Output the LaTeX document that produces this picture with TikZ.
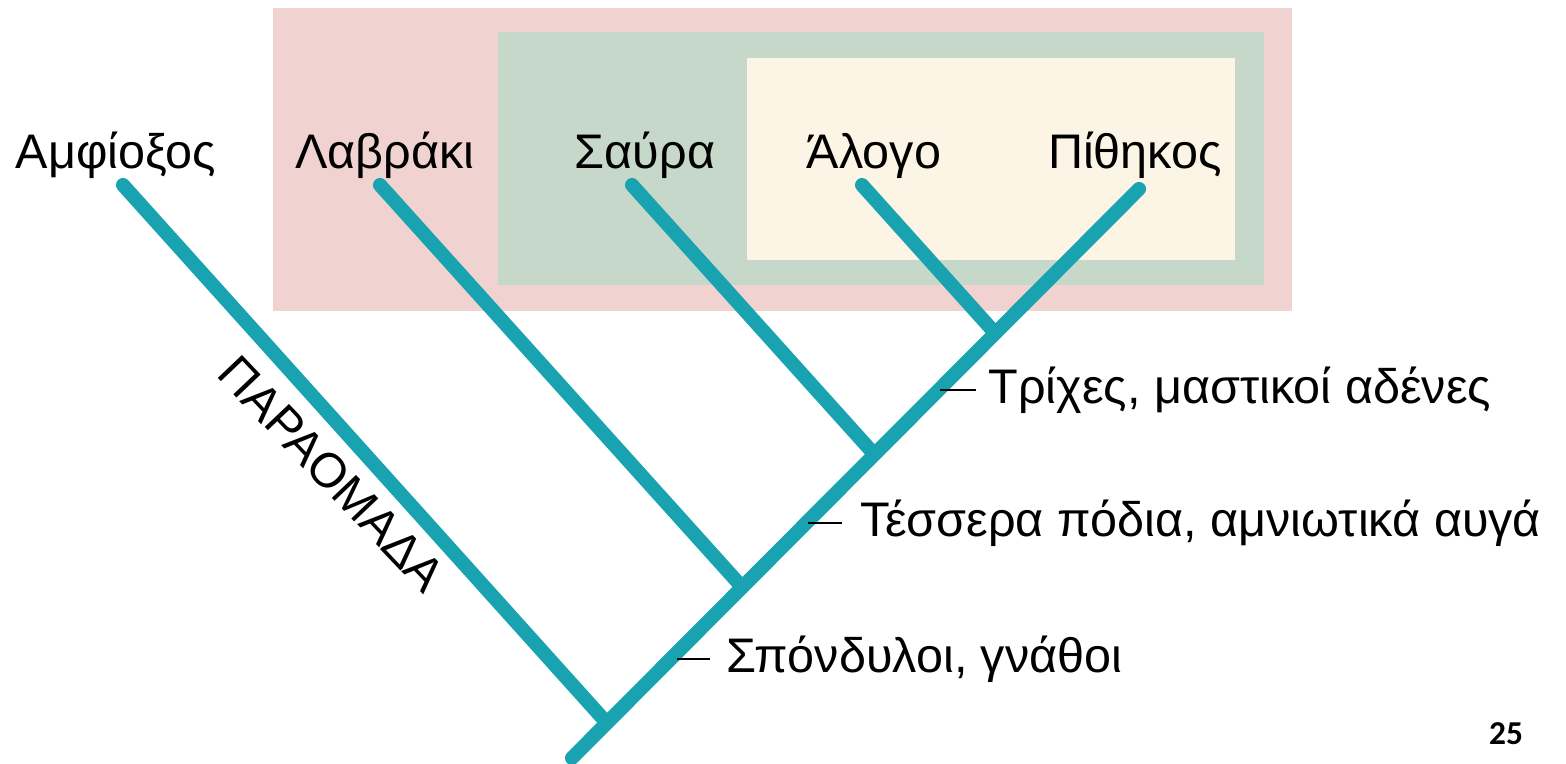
\documentclass[tikz,border=0pt]{standalone}
\usepackage{fontspec}
\setmainfont{Liberation Sans}
\newfontfamily\pagenumfont{Carlito}
\definecolor{pinkbg}{HTML}{F0D3D0}
\definecolor{greenbg}{HTML}{C6D8CA}
\definecolor{creambg}{HTML}{FCF5E5}
\definecolor{teal}{HTML}{19A3B1}
\tikzset{
  branch/.style={draw=teal, line width=4pt, line cap=round},
  taxon/.style={font=\fontsize{13.8}{16}\selectfont, inner sep=0pt, anchor=base},
  trait/.style={font=\fontsize{13.8}{16}\selectfont, inner sep=0pt, anchor=west},
  tickmark/.style={draw=black, line width=0.6pt}
}
\begin{document}
\begin{tikzpicture}[x=0.01cm, y=-0.01cm]
\useasboundingbox (0,0) rectangle (1566,764);
% nested group boxes
\fill[pinkbg] (273,8) rectangle (1292,311);
\fill[greenbg] (498,32) rectangle (1264,285);
\fill[creambg] (747,58) rectangle (1235,260);

% tips and junctions
\coordinate (root) at (572,758);
\coordinate (tA) at (123,185);
\coordinate (tL) at (380,185);
\coordinate (tS) at (632,185);
\coordinate (tH) at (862,185);
\coordinate (tP) at (1139,189);
\coordinate (jA) at (606,722);
\coordinate (jL) at (742,587);
\coordinate (jS) at (874,454);
\coordinate (jH) at (995,333);

% tree
\draw[branch] (root) -- (tP);
\draw[branch] (tA) -- (jA);
\draw[branch] (tL) -- (jL);
\draw[branch] (tS) -- (jS);
\draw[branch] (tH) -- (jH);

% taxon labels
\node[taxon] (lA) at (116,169) {Αμφίοξος};
\node[taxon] (lL) at (385,169) {Λαβράκι};
\node[taxon] (lS) at (645,169) {Σαύρα};
\node[taxon] (lH) at (874,169) {Άλογο};
\node[taxon] (lP) at (1135,169) {Πίθηκος};

% paraphyletic group label
\node[font=\fontsize{13.8}{16}\selectfont, inner sep=0pt, rotate=-46.5] (para) at (332,474) {ΠΑΡΑΟΜΑΔΑ};

% traits
\coordinate (k1) at (940,390);
\coordinate (k2) at (808,523);
\coordinate (k3) at (677,659);
\node[trait] (r1) at (988,390) {Τρίχες, μαστικοί αδένες};
\node[trait] (r2) at (860,523) {Τέσσερα πόδια, αμνιωτικά αυγά};
\node[trait] (r3) at (726,659) {Σπόνδυλοι, γνάθοι};
\draw[tickmark] (k1) -- ++(36,0);
\draw[tickmark] (k2) -- ++(34,0);
\draw[tickmark] (k3) -- ++(33,0);

% page number
\node[font=\pagenumfont\bfseries\fontsize{9.5}{11}\selectfont, inner sep=0pt] (pg) at (1506,734) {25};
\end{tikzpicture}
\end{document}
